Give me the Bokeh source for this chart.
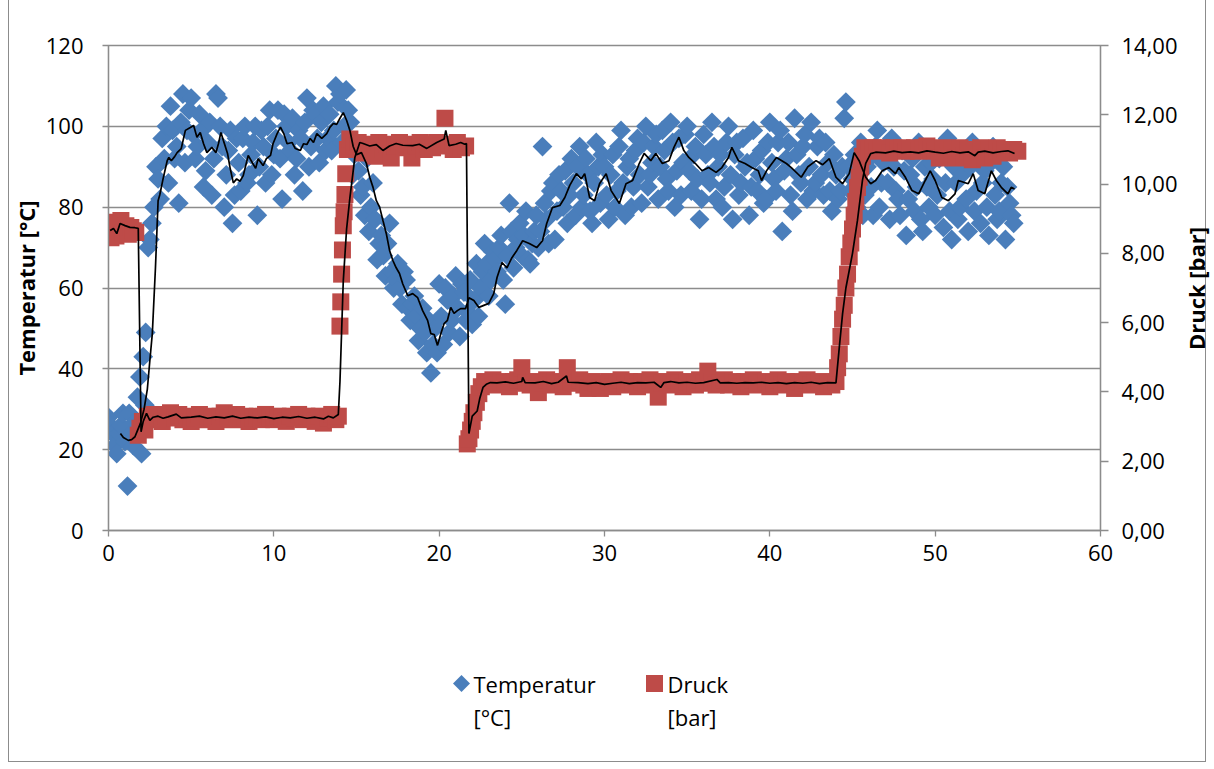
import math
from bokeh.plotting import figure
from bokeh.layouts import column, row
from bokeh.models import Range1d, LinearAxis, FixedTicker
from bokeh.core.properties import value
from bokeh.embed import file_html
from bokeh.resources import INLINE

# ---------------- data ----------------
x_ticks = [0, 10, 20, 30, 40, 50, 60]
t_ticks = [0, 20, 40, 60, 80, 100, 120]
p_ticks = [0, 2, 4, 6, 8, 10, 12, 14]

temp_t = [0.0, 0.125, 0.25, 0.375, 0.5, 0.625, 0.75, 0.875, 1.0, 1.15, 1.25, 1.375, 1.5, 1.625, 1.75, 1.9,
          2.0, 2.1, 2.2, 2.25, 2.4, 2.5, 2.625, 2.75, 2.875,
          3.0, 3.125, 3.25, 3.375, 3.5, 3.625, 3.75, 3.875, 4.0, 4.125, 4.25, 4.375, 4.5, 4.625, 4.75, 4.875,
          5.0, 5.125, 5.25, 5.375, 5.5, 5.625, 5.75, 5.875, 6.0, 6.125, 6.25, 6.375, 6.5, 6.625, 6.75, 6.875,
          7.0, 7.125, 7.25, 7.375, 7.5, 7.625, 7.75, 7.875, 8.0, 8.125, 8.25, 8.375, 8.5, 8.625, 8.75, 8.875,
          9.0, 9.125, 9.25, 9.375, 9.5, 9.625, 9.75, 9.875, 10.0, 10.125, 10.25, 10.375, 10.5, 10.625, 10.75, 10.875,
          11.0, 11.125, 11.25, 11.375, 11.5, 11.625, 11.75, 11.875, 12.0, 12.125, 12.25, 12.375, 12.5, 12.625,
          12.75, 12.875, 13.0, 13.125, 13.25, 13.375, 13.5, 13.625, 13.75, 13.875, 14.0, 14.125, 14.25, 14.375,
          14.5, 14.625, 14.75, 14.875, 15.0, 15.125, 15.25, 15.375, 15.5, 15.625, 15.75, 15.875, 16.0, 16.125,
          16.25, 16.375, 16.5, 16.625, 16.75, 16.875, 17.0, 17.125, 17.25, 17.375, 17.5, 17.625, 17.75, 17.875,
          18.0, 18.125, 18.25, 18.375, 18.5, 18.625, 18.75, 18.875, 19.0, 19.125, 19.25, 19.375, 19.5, 19.625,
          19.75, 19.875, 20.0, 20.125, 20.25, 20.375, 20.5, 20.625, 20.75, 20.875, 21.0, 21.125, 21.25, 21.375,
          21.5, 21.625, 21.75, 21.875, 22.0, 22.125, 22.25, 22.375, 22.5, 22.625, 22.75, 22.875, 23.0, 23.125,
          23.25, 23.375, 23.5, 23.625, 23.75, 23.875, 24.0, 24.125, 24.25, 24.375, 24.5, 24.625, 24.75, 24.875,
          25.0, 25.125, 25.25, 25.375, 25.5, 25.625, 25.75, 25.875, 26.0, 26.125, 26.25, 26.375, 26.5, 26.625,
          26.75, 26.875, 27.0, 27.125, 27.25, 27.375, 27.5, 27.625, 27.75, 27.875, 28.0, 28.125, 28.25, 28.375,
          28.5, 28.625, 28.75, 28.875, 29.0, 29.125, 29.25, 29.375, 29.5, 29.625, 29.75, 29.875, 30.0, 30.125,
          30.25, 30.375, 30.5, 30.625, 30.75, 30.875, 31.0, 31.125, 31.25, 31.375, 31.5, 31.625, 31.75, 31.875,
          32.0, 32.125, 32.25, 32.375, 32.5, 32.625, 32.75, 32.875, 33.0, 33.125, 33.25, 33.375, 33.5, 33.625,
          33.75, 33.875, 34.0, 34.125, 34.25, 34.375, 34.5, 34.625, 34.75, 34.875, 35.0, 35.125, 35.25, 35.375,
          35.5, 35.625, 35.75, 35.875, 36.0, 36.125, 36.25, 36.375, 36.5, 36.625, 36.75, 36.875, 37.0, 37.125,
          37.25, 37.375, 37.5, 37.625, 37.75, 37.875, 38.0, 38.125, 38.25, 38.375, 38.5, 38.625, 38.75, 38.875,
          39.0, 39.125, 39.25, 39.375, 39.5, 39.625, 39.75, 39.875, 40.0, 40.125, 40.25, 40.375, 40.5, 40.625,
          40.75, 40.875, 41.0, 41.125, 41.25, 41.375, 41.5, 41.625, 41.75, 41.875, 42.0, 42.125, 42.25, 42.375,
          42.5, 42.625, 42.75, 42.875, 43.0, 43.125, 43.25, 43.375, 43.5, 43.625, 43.75, 43.875, 44.0, 44.125,
          44.25, 44.375, 44.5, 44.6, 44.75, 44.875, 45.0, 45.125, 45.25, 45.375, 45.5, 45.625, 45.75, 45.875,
          46.0, 46.125, 46.25, 46.375, 46.5, 46.625, 46.75, 46.875, 47.0, 47.125, 47.25, 47.375, 47.5, 47.625,
          47.75, 47.875, 48.0, 48.125, 48.25, 48.375, 48.5, 48.625, 48.75, 48.875, 49.0, 49.125, 49.25, 49.375,
          49.5, 49.625, 49.75, 49.875, 50.0, 50.125, 50.25, 50.375, 50.5, 50.625, 50.75, 50.875, 51.0, 51.125,
          51.25, 51.375, 51.5, 51.625, 51.75, 51.875, 52.0, 52.125, 52.25, 52.375, 52.5, 52.625, 52.75, 52.875,
          53.0, 53.125, 53.25, 53.375, 53.5, 53.625, 53.75, 53.875, 54.0, 54.125, 54.25, 54.375, 54.5, 54.625,
          54.75]
temp_v = [28, 26, 24, 21, 19, 24, 26, 29, 22, 11, 29, 24, 21, 27, 33, 38,
          19, 43, 31, 49, 70, 72, 76, 80, 90,
          87, 82, 97, 92, 100, 86, 105, 99, 92, 95, 81, 101, 108, 91, 99, 104,
          107, 98, 92, 95, 103, 99, 85, 89, 96, 101, 83, 92, 108, 107, 100, 95,
          80, 88, 94, 99, 76, 83, 97, 91, 84, 97, 100, 86, 88, 93, 96, 100,
          78, 90, 99, 95, 86, 100, 104, 88, 93, 97, 104, 92, 82, 103, 100, 96,
          94, 102, 88, 92, 99, 97, 84, 101, 107, 90, 95, 104, 103, 97,
          91, 101, 105, 94, 97, 103, 94, 99, 110, 106, 108, 96, 100, 109,
          104, 101, 88, 93, 96, 89, 83, 85, 78, 92, 74, 80, 86, 77,
          67, 71, 73, 68, 63, 71, 76, 64, 60, 62, 66, 60, 56, 64,
          62, 55, 52, 56, 58, 53, 47, 50, 55, 49, 44, 52, 39, 46,
          50, 44, 61, 53, 46, 60, 57, 49, 52, 58, 63, 55, 48, 61,
          59, 52, 54, 62, 51, 57, 66, 53, 60, 64, 71, 66, 58, 62,
          69, 67, 64, 70, 73, 62, 56, 68, 81, 74, 65, 70, 72, 76,
          68, 73, 79, 67, 66, 71, 74, 78, 70, 74, 95, 81, 77, 71,
          84, 86, 72, 79, 88, 84, 80, 89, 76, 83, 92, 86, 78, 90,
          95, 80, 83, 92, 88, 79, 76, 86, 96, 90, 81, 93, 90, 83,
          77, 88, 93, 80, 84, 95, 99, 86, 78, 90, 92, 80, 85, 94,
          97, 88, 81, 96, 100, 85, 88, 91, 95, 98, 82, 90, 99, 94,
          87, 84, 101, 96, 80, 89, 97, 83, 91, 98, 100, 89, 84, 93,
          95, 87, 77, 82, 98, 93, 88, 86, 101, 95, 82, 90, 93, 80,
          85, 96, 100, 88, 77, 93, 96, 83, 86, 97, 90, 91, 78, 85,
          99, 92, 84, 88, 94, 81, 82, 96, 101, 91, 87, 84, 96, 99,
          74, 89, 92, 96, 83, 79, 102, 93, 88, 86, 95, 98, 82, 90,
          101, 84, 86, 95, 97, 88, 83, 96, 91, 84, 79, 93, 88, 82,
          84, 90, 102, 106, 90, 84, 87, 93, 80, 88, 96, 78, 83, 90,
          92, 85, 78, 95, 99, 80, 86, 91, 95, 86, 77, 97, 90, 84,
          82, 78, 94, 89, 73, 82, 88, 92, 79, 85, 96, 77, 74, 90,
          85, 80, 91, 87, 78, 83, 92, 95, 75, 86, 97, 79, 72, 90,
          86, 77, 80, 88, 93, 82, 74, 90, 96, 79, 84, 93, 76, 86,
          89, 80, 73, 91, 95, 83, 77, 79, 86, 90, 72, 85, 81, 78,
          76]

press_t = [0.0, 0.15, 0.3, 0.45, 0.6, 0.75, 0.9, 1.05, 1.2, 1.35, 1.5, 1.65,
           1.8, 1.9, 2.05, 2.2, 2.35,
           2.5, 2.75, 3.0, 3.25, 3.5, 3.75, 4.0, 4.25, 4.5, 4.75, 5.0, 5.25, 5.5, 5.75, 6.0, 6.25,
           6.5, 6.75, 7.0, 7.25, 7.5, 7.75, 8.0, 8.25, 8.5, 8.75, 9.0, 9.25, 9.5, 9.75, 10.0, 10.25,
           10.5, 10.75, 11.0, 11.25, 11.5, 11.75, 12.0, 12.25, 12.5, 12.75, 13.0, 13.25, 13.5, 13.75, 13.9,
           14.0, 14.05, 14.1, 14.15, 14.2, 14.25, 14.3, 14.35, 14.45,
           14.6, 14.85, 15.1, 15.35, 15.6, 15.85, 16.1, 16.35, 16.6, 16.85, 17.1, 17.35, 17.6, 17.85,
           18.1, 18.35, 18.6, 18.85, 19.1, 19.35, 19.6, 19.85, 20.1, 20.35, 20.6, 20.85, 21.1, 21.35, 21.6,
           21.7, 21.8, 21.9, 22.0, 22.1, 22.25, 22.4, 22.55, 22.75,
           23.0, 23.25, 23.5, 23.75, 24.0, 24.25, 24.5, 24.75, 25.0, 25.25, 25.5, 25.75, 26.0, 26.25,
           26.5, 26.75, 27.0, 27.25, 27.5, 27.75, 28.0, 28.25, 28.5, 28.75, 29.0, 29.25, 29.5, 29.75,
           30.0, 30.25, 30.5, 30.75, 31.0, 31.25, 31.5, 31.75, 32.0, 32.25, 32.5, 32.75, 33.0, 33.25,
           33.5, 33.75, 34.0, 34.25, 34.5, 34.75, 35.0, 35.25, 35.5, 35.75, 36.0, 36.25, 36.5, 36.75,
           37.0, 37.25, 37.5, 37.75, 38.0, 38.25, 38.5, 38.75, 39.0, 39.25, 39.5, 39.75, 40.0, 40.25,
           40.5, 40.75, 41.0, 41.25, 41.5, 41.75, 42.0, 42.25, 42.5, 42.75, 43.0, 43.25, 43.5, 43.75, 44.0,
           44.1, 44.2, 44.3, 44.4, 44.5, 44.6, 44.7, 44.8, 44.9, 45.0, 45.1, 45.2, 45.3, 45.4, 45.5, 45.6, 45.75,
           46.0, 46.25, 46.5, 46.75, 47.0, 47.25, 47.5, 47.75, 48.0, 48.25, 48.5, 48.75, 49.0, 49.25,
           49.5, 49.75, 50.0, 50.25, 50.5, 50.75, 51.0, 51.25, 51.5, 51.75, 52.0, 52.25, 52.5, 52.75,
           53.0, 53.25, 53.5, 53.75, 54.0, 54.25, 54.5, 54.75, 55.0]
press_v = [8.8, 8.45, 8.9, 8.5, 8.75, 8.95, 8.6, 8.8, 8.55, 8.75, 8.65, 8.6,
           2.75, 2.95, 3.15, 2.9, 3.3,
           3.2, 3.35, 3.25, 3.15, 3.3, 3.4, 3.25, 3.35, 3.2, 3.3, 3.15, 3.25, 3.35, 3.2, 3.3, 3.25,
           3.15, 3.3, 3.4, 3.25, 3.2, 3.35, 3.25, 3.3, 3.15, 3.25, 3.3, 3.2, 3.35, 3.25, 3.2, 3.3,
           3.25, 3.15, 3.3, 3.25, 3.35, 3.2, 3.3, 3.25, 3.15, 3.3, 3.1, 3.25, 3.35, 3.2, 3.3,
           5.9, 6.6, 7.4, 8.1, 8.8, 9.2, 9.7, 10.3, 11.0,
           11.3, 11.1, 11.2, 10.9, 11.15, 11.05, 10.8, 11.2, 11.0, 11.15, 10.75, 11.1, 11.2, 11.05,
           11.15, 10.75, 11.1, 11.2, 11.0, 11.15, 11.05, 11.2, 11.1, 11.9, 11.15, 11.0, 11.2, 11.05, 11.1,
           2.5, 2.65, 2.9, 3.15, 3.4, 3.7, 3.95, 4.15, 4.3,
           4.25, 4.35, 4.2, 4.3, 4.25, 4.15, 4.3, 4.35, 4.7, 4.25, 4.2, 4.3, 3.98, 4.25,
           4.35, 4.2, 4.3, 4.25, 4.15, 4.7, 4.3, 4.25, 4.35, 4.2, 4.1, 4.3, 4.25, 4.1,
           4.2, 4.3, 4.15, 4.25, 4.35, 4.2, 4.3, 4.25, 4.15, 4.3, 4.25, 4.35, 4.2, 3.85,
           4.25, 4.3, 4.2, 4.35, 4.25, 4.15, 4.3, 4.25, 4.2, 4.35, 4.25, 4.6, 4.3, 4.2,
           4.25, 4.35, 4.2, 4.3, 4.25, 4.15, 4.3, 4.25, 4.35, 4.2, 4.25, 4.3, 4.15, 4.25,
           4.35, 4.2, 4.3, 4.25, 4.1, 4.3, 4.25, 4.35, 4.2, 4.25, 4.3, 4.15, 4.25, 4.2, 4.3,
           4.7, 5.1, 5.6, 6.1, 6.5, 7.0, 7.4, 7.9, 8.3, 8.7, 9.1, 9.5, 9.9, 10.2, 10.5, 10.8, 11.05,
           11.0, 11.05, 10.95, 11.05, 11.0, 10.9, 11.05, 11.0, 11.05, 10.95, 11.0, 11.05, 10.95, 11.05,
           11.1, 11.0, 10.95, 10.75, 11.05, 10.8, 11.0, 10.75, 11.05, 10.8, 11.0, 10.7, 10.85, 11.05,
           10.75, 11.0, 10.8, 11.05, 10.95, 11.0, 10.9, 11.0, 10.95]

# moving-average trend lines
temp_ma_t = [0.72, 0.9, 1.2, 1.4, 1.6, 1.75, 1.93, 2.15, 2.35, 2.5, 2.65, 2.84, 3.0, 3.1, 3.3, 3.55,
             3.65, 3.8, 4.0, 4.15, 4.4, 4.65, 4.95, 5.15, 5.35, 5.55, 5.75, 5.95, 6.25, 6.5, 6.65, 6.8,
             6.95, 7.2, 7.35, 7.55, 7.75, 7.95, 8.15, 8.45, 8.7, 8.9, 9.05, 9.35, 9.55, 9.8, 9.95, 10.2,
             10.4, 10.6, 10.8, 11.1, 11.3, 11.6, 11.8, 12.0, 12.2, 12.4, 12.6, 12.9, 13.2, 13.4, 13.6,
             13.8, 14.0, 14.2, 14.4, 14.6, 14.8, 15.0, 15.3, 15.6, 15.8, 16.0, 16.2, 16.4, 16.6, 16.8,
             17.0, 17.2, 17.4, 17.6, 17.8, 18.1, 18.4, 18.7, 19.0, 19.3, 19.5, 19.7, 19.9, 20.1, 20.3,
             20.5, 20.7, 20.9, 21.1, 21.3, 21.6, 21.8, 22.1, 22.4, 22.7, 23.0, 23.3, 23.5, 23.8, 24.1,
             24.4, 24.7, 25.05, 25.45, 25.9, 26.25, 26.5, 26.85, 27.3, 27.6, 27.9, 28.3, 28.6, 28.8,
             29.1, 29.4, 29.7, 30.1, 30.4, 30.9, 31.3, 31.7, 32.1, 32.4, 32.8, 33.1, 33.5, 33.9, 34.2,
             34.5, 34.8, 35.1, 35.5, 35.9, 36.3, 36.75, 37.1, 37.5, 37.7, 38.1, 38.5, 38.9, 39.3, 39.5,
             39.8, 40.4, 41.0, 41.3, 41.9, 42.3, 42.8, 43.2, 43.6, 44.0, 44.4, 44.8, 45.1, 45.4, 45.8,
             46.1, 46.4, 46.8, 47.2, 47.6, 47.8, 48.2, 48.6, 49.0, 49.4, 49.7, 50.0, 50.4, 50.8, 51.2,
             51.4, 52.0, 52.3, 52.6, 53.0, 53.4, 53.7, 54.0, 54.4, 54.6, 54.8]
temp_ma_v = [24.0, 23.0, 22.3, 22.5, 23.2, 24.7, 26.5, 30, 35, 42, 48.7, 65, 81.6, 83, 87, 91.5,
             92.3, 91.5, 92.5, 93.5, 94.5, 99, 99.7, 100.2, 97.3, 98.5, 95.7, 93.5, 94.8, 93.5, 95.7, 98.5,
             96.5, 93.3, 89.8, 86, 87, 86.4, 87.8, 92.8, 91, 89.6, 92, 90.3, 92, 92.8, 95.7, 98.2,
             99.8, 98.2, 95.7, 96, 94.5, 94, 95.7, 95.5, 97, 96, 98.2, 97, 98.2, 99.8, 100.7,
             100.5, 102, 103.4, 101.5, 99, 95, 93, 93.5, 90.8, 87.4, 84.9, 81.6, 80, 76.7, 73.5,
             69.3, 66.8, 65, 63.6, 61, 58.1, 58.6, 57.6, 54.4, 52, 48.7, 48.5, 45.8, 48.7, 51.2,
             52, 55.2, 53.7, 54.4, 54.9, 54.9, 57.6, 56.9, 55.2, 55.7, 56.2, 58.6, 62.6, 66.3, 65,
             67.5, 69.3, 71.7, 71, 70, 71.7, 75.9, 79.9, 80.4, 82.4, 85.4, 88.3, 87, 88.3,
             82.4, 81.6, 85.8, 88.3, 84.1, 80.9, 85.8, 86.6, 90.8, 93.3, 91.5, 93.3, 90.8, 91.5, 94.8,
             97.3, 94, 92.3, 90.8, 89, 89.8, 88.6, 89.8, 92.3, 94.8, 91.5, 90.8, 89.8, 89, 86.6,
             89, 92.3, 90.8, 89.8, 87.4, 90, 91.5, 90.5, 92, 87.4, 85.8, 88.3, 93.5, 91.5, 87.4,
             85.8, 86.6, 89, 89.8, 88.3, 89.8, 87.4, 84.1, 83.3, 86.6, 89, 86.6, 82.4, 81.6, 83.3,
             86.6, 85.8, 88.3, 84.1, 83.3, 89, 86.6, 84.9, 83.3, 84.9, 84.5]

press_ma_t = [0.1, 0.3, 0.5, 0.7, 1.0, 1.3, 1.6, 1.8, 1.97, 2.1, 2.3, 2.5, 2.7, 3.0, 3.3, 3.6, 4.1, 4.4,
              5.0, 5.5, 6.0, 6.5, 7.0, 7.5, 8.0, 8.5, 9.0, 9.5, 10.0, 10.5, 11.0, 11.5, 12.0, 12.5,
              13.0, 13.3, 13.6, 13.9, 14.0, 14.2, 14.4, 14.6, 14.9, 15.2, 15.4, 15.8, 16.2, 16.6, 17.0,
              17.4, 17.8, 18.4, 18.8, 19.25, 19.85, 20.3, 20.4, 20.6, 21.0, 21.3, 21.55, 21.65, 21.8,
              22.0, 22.3, 22.45, 22.65, 22.85, 23.1, 23.5, 24.0, 24.5, 25.0, 25.05, 25.2, 25.8, 26.3,
              26.8, 27.2, 27.7, 27.8, 28.4, 29.0, 29.5, 30.0, 30.5, 31.0, 31.5, 32.0, 32.5, 33.0, 33.4,
              33.6, 34.0, 34.5, 35.0, 35.5, 36.0, 36.8, 37.0, 37.5, 38.0, 38.5, 39.0, 39.5, 40.0, 40.5,
              41.0, 41.5, 42.0, 42.5, 43.0, 43.5, 44.0, 44.2, 44.4, 44.6, 45.0, 45.3, 45.6, 45.8, 46.1,
              46.4, 47.0, 47.5, 48.0, 48.5, 49.0, 49.5, 50.0, 50.5, 51.0, 51.5, 52.0, 52.4, 52.6, 53.0,
              53.5, 54.0, 54.4, 54.8]
press_ma_v = [8.66, 8.72, 8.57, 8.86, 8.8, 8.75, 8.74, 8.72, 2.85, 3.15, 3.38, 3.18, 3.27, 3.3, 3.24, 3.28, 3.36, 3.25,
              3.27, 3.3, 3.24, 3.28, 3.25, 3.3, 3.24, 3.27, 3.25, 3.28, 3.23, 3.27, 3.25, 3.29, 3.24, 3.27,
              3.22, 3.3, 3.25, 3.35, 4.3, 7.2, 8.7, 9.6, 10.77, 11.2, 11.17, 11.1, 11.14, 10.97, 11.1,
              11.17, 11.12, 11.11, 11.15, 11.03, 11.2, 11.3, 11.55, 11.11, 11.15, 11.2, 11.15, 11.17, 2.8,
              3.3, 3.45, 3.8, 4.13, 4.22, 4.27, 4.26, 4.29, 4.25, 4.3, 4.42, 4.27, 4.26, 4.3,
              4.24, 4.28, 4.46, 4.28, 4.27, 4.24, 4.27, 4.22, 4.25, 4.28, 4.24, 4.27, 4.26, 4.28, 4.13,
              4.27, 4.3, 4.26, 4.28, 4.25, 4.27, 4.36, 4.26, 4.27, 4.25, 4.27, 4.26, 4.28, 4.25, 4.27,
              4.24, 4.27, 4.25, 4.28, 4.24, 4.27, 4.26, 5.28, 6.26, 7.0, 8.0, 8.95, 10.1, 10.6, 10.88,
              10.92, 10.9, 10.95, 10.91, 10.93, 10.9, 10.96, 10.92, 10.89, 10.94, 10.9, 10.93, 10.82, 10.92, 10.95,
              10.9, 10.94, 10.96, 10.88]

legend_labels = [["Temperatur", "[°C]"], ["Druck", "[bar]"]]
y2_title = "Druck [bar]"

# ---------------- styling ----------------
FONT = "Open Sans"
GRID = "#8c8c8c"
BLUE = "#4A7EBB"
RED = "#BE4B48"
W_MAIN, W_TITLE, H_MAIN, H_LEG = 1180, 34, 600, 169


def bare(fig):
    fig.min_border_left = fig.min_border_right = fig.min_border_top = fig.min_border_bottom = 0
    fig.outline_line_color = None
    fig.background_fill_alpha = 0
    fig.border_fill_alpha = 0
    if "frame_align" in fig.properties():
        fig.frame_align = False


p = figure(width=W_MAIN, height=H_MAIN, x_range=Range1d(0, 60), y_range=Range1d(0, 120),
           output_backend="svg", toolbar_location=None,
           min_border_left=108, min_border_right=78, min_border_top=45, min_border_bottom=70)
if "frame_align" in p.properties():
    p.frame_align = False
p.extra_y_ranges = {"p": Range1d(0, 14)}
p.background_fill_color = "white"
p.border_fill_alpha = 0
p.outline_line_color = GRID
p.outline_line_width = 1.3
p.xgrid.visible = False
p.ygrid.ticker = FixedTicker(ticks=t_ticks)
p.ygrid.grid_line_color = GRID
p.ygrid.grid_line_width = 1.3

p.xaxis.ticker = FixedTicker(ticks=x_ticks)
p.yaxis.ticker = FixedTicker(ticks=t_ticks)
p.yaxis.axis_label = "Temperatur [°C]"

rax = LinearAxis(y_range_name="p", ticker=FixedTicker(ticks=p_ticks),
                 major_label_overrides={t: f"{t:.2f}".replace(".", ",") for t in p_ticks})
p.add_layout(rax, "right")

for ax in [p.xaxis[0], p.yaxis[0], rax]:
    ax.axis_line_color = GRID
    ax.axis_line_width = 1.3
    ax.major_tick_line_color = GRID
    ax.major_tick_line_width = 1.3
    ax.major_tick_in = 0
    ax.major_tick_out = 6
    ax.minor_tick_line_color = None
    ax.major_label_text_font = FONT
    ax.major_label_text_font_size = "22px"
    ax.major_label_text_color = "#000000"
    ax.axis_label_text_font = FONT
    ax.axis_label_text_font_size = "22px"
    ax.axis_label_text_font_style = "bold"
    ax.axis_label_text_color = "#000000"

p.xaxis[0].major_label_standoff = 8
p.yaxis[0].major_label_standoff = 19
p.yaxis[0].axis_label_standoff = 2
rax.major_tick_out = 8
rax.major_label_standoff = 13

r_t = p.scatter(temp_t, temp_v, marker="square", angle=math.pi / 4, size=14,
                fill_color=BLUE, line_color=None)
r_p = p.scatter(press_t, press_v, y_range_name="p", marker="square", size=17,
                fill_color=RED, line_color=None)
p.line(temp_ma_t, temp_ma_v, line_color="black", line_width=1.7)
p.line(press_ma_t, press_ma_v, y_range_name="p", line_color="black", line_width=1.7)

# ---------------- right axis title (reads bottom-to-top) ----------------
tfig = figure(width=W_TITLE, height=H_MAIN, x_range=Range1d(0, W_TITLE), y_range=Range1d(H_MAIN, 0),
              output_backend="svg", toolbar_location=None, x_axis_type=None, y_axis_type=None)
bare(tfig)
tfig.text(x=[15], y=[288], text=[y2_title], angle=math.pi / 2, text_font=value(FONT),
          text_font_size="22px", text_font_style="bold", text_color="#000000",
          text_align="center", text_baseline="middle")

# ---------------- legend strip (below the plot) ----------------
leg = figure(width=W_MAIN + W_TITLE, height=H_LEG, x_range=Range1d(0, W_MAIN + W_TITLE),
             y_range=Range1d(H_LEG, 0), output_backend="svg", toolbar_location=None,
             x_axis_type=None, y_axis_type=None)
bare(leg)
key_x = [461, 654]
text_x = [473, 667]
line1_y, line2_y, key_y = 83, 116, 83
leg.scatter([key_x[0]], [key_y], marker="square", angle=math.pi / 4, size=12,
            fill_color=BLUE, line_color=None)
leg.scatter([key_x[1]], [key_y], marker="square", size=17, fill_color=RED, line_color=None)
for tx, lines in zip(text_x, legend_labels):
    leg.text(x=[tx, tx], y=[line1_y, line2_y], text=lines, text_font=value(FONT),
             text_font_size="22px", text_color="#000000", text_align="left",
             text_baseline="middle")

g = "linear-gradient(#8c8c8c, #8c8c8c)"
frame_css = (f"{g} 8px 0px / 1px 762px no-repeat, "
             f"{g} 1205px 0px / 1px 762px no-repeat, "
             f"{g} 8px 761px / 1198px 1px no-repeat, #ffffff")
layout = column(row(p, tfig, spacing=0), leg, spacing=0, styles={"background": frame_css})

open("out.html", "w").write(file_html(layout, INLINE))
